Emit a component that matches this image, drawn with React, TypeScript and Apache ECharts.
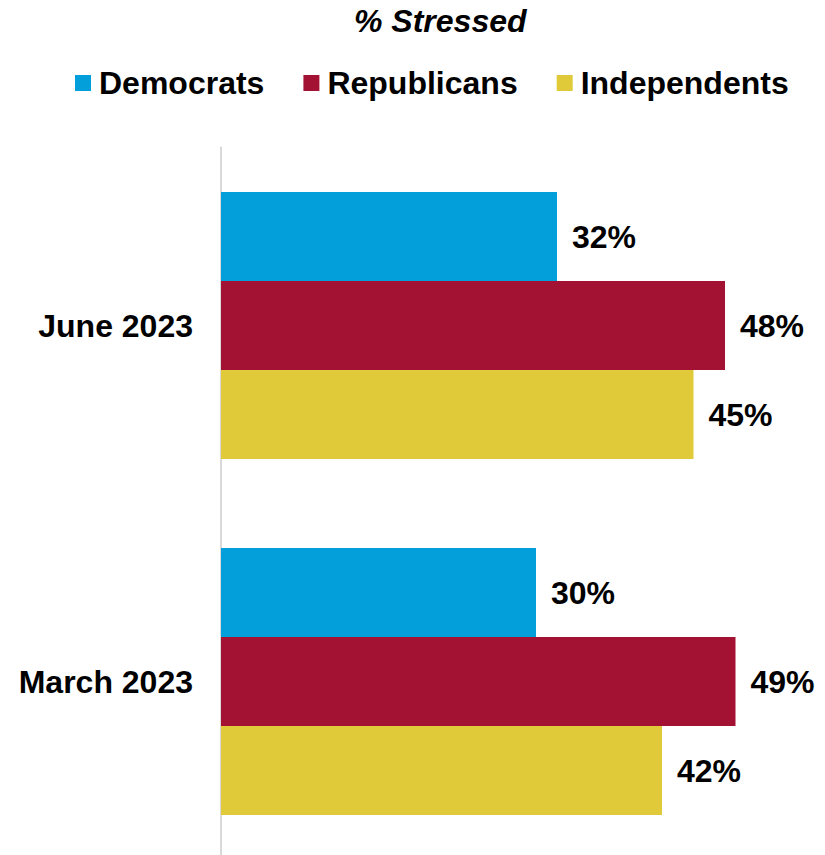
import React, { useEffect, useRef } from "react";
import * as echarts from "echarts";

const categories = ["June 2023", "March 2023"];
const seriesNames = ["Democrats", "Republicans", "Independents"];
const democrats = [32, 30];
const republicans = [48, 49];
const independents = [45, 42];
const colors = ["#039FDB", "#A31133", "#E0CA3A"];
const titleText = "% Stressed";

const FONT = "Arial, 'Liberation Sans', Helvetica, sans-serif";

export default function App() {
  const ref = useRef<HTMLDivElement>(null);
  useEffect(() => {
    if (!ref.current) return;
    const chart = echarts.init(ref.current, undefined, { renderer: "svg" });
    const values = [democrats, republicans, independents];
    chart.setOption({
      animation: false,
      backgroundColor: "#ffffff",
      textStyle: { fontFamily: FONT },
      title: {
        text: titleText,
        left: 354,
        top: 5,
        padding: 0,
        textStyle: {
          fontFamily: FONT,
          fontSize: 32,
          fontWeight: "bold",
          fontStyle: "italic",
          color: "#000",
        },
      },
      legend: {
        left: 75,
        top: 67,
        padding: 0,
        itemWidth: 16,
        itemHeight: 16,
        itemGap: 39,
        icon: "rect",
        data: seriesNames,
        textStyle: {
          fontFamily: FONT,
          fontSize: 32,
          fontWeight: "bold",
          color: "#000",
          padding: [0, 0, 0, 3],
        },
      },
      grid: {
        left: 221,
        top: 147.5,
        width: 598.5,
        height: 712,
        containLabel: false,
        outerBoundsMode: "none",
      },
      xAxis: {
        type: "value",
        min: 0,
        max: 57,
        show: false,
        splitLine: { show: false },
      },
      yAxis: {
        type: "category",
        data: categories,
        inverse: true,
        axisLine: { show: true, lineStyle: { color: "#D9D9D9", width: 2 } },
        axisTick: { show: false },
        axisLabel: {
          margin: 28,
          fontFamily: FONT,
          fontSize: 32,
          fontWeight: "bold",
          color: "#000",
        },
      },
      series: seriesNames.map((name, i) => ({
        name,
        type: "bar",
        data: values[i],
        barWidth: 89,
        barGap: "0%",
        itemStyle: { color: colors[i] },
        label: {
          show: true,
          position: "right",
          distance: 15,
          formatter: "{c}%",
          fontFamily: FONT,
          fontSize: 32,
          fontWeight: "bold",
          color: "#000",
        },
      })),
    });
    return () => chart.dispose();
  }, []);
  return (
    <div
      ref={ref}
      style={{ position: "absolute", left: 0, top: 0, width: 825, height: 855 }}
    />
  );
}
